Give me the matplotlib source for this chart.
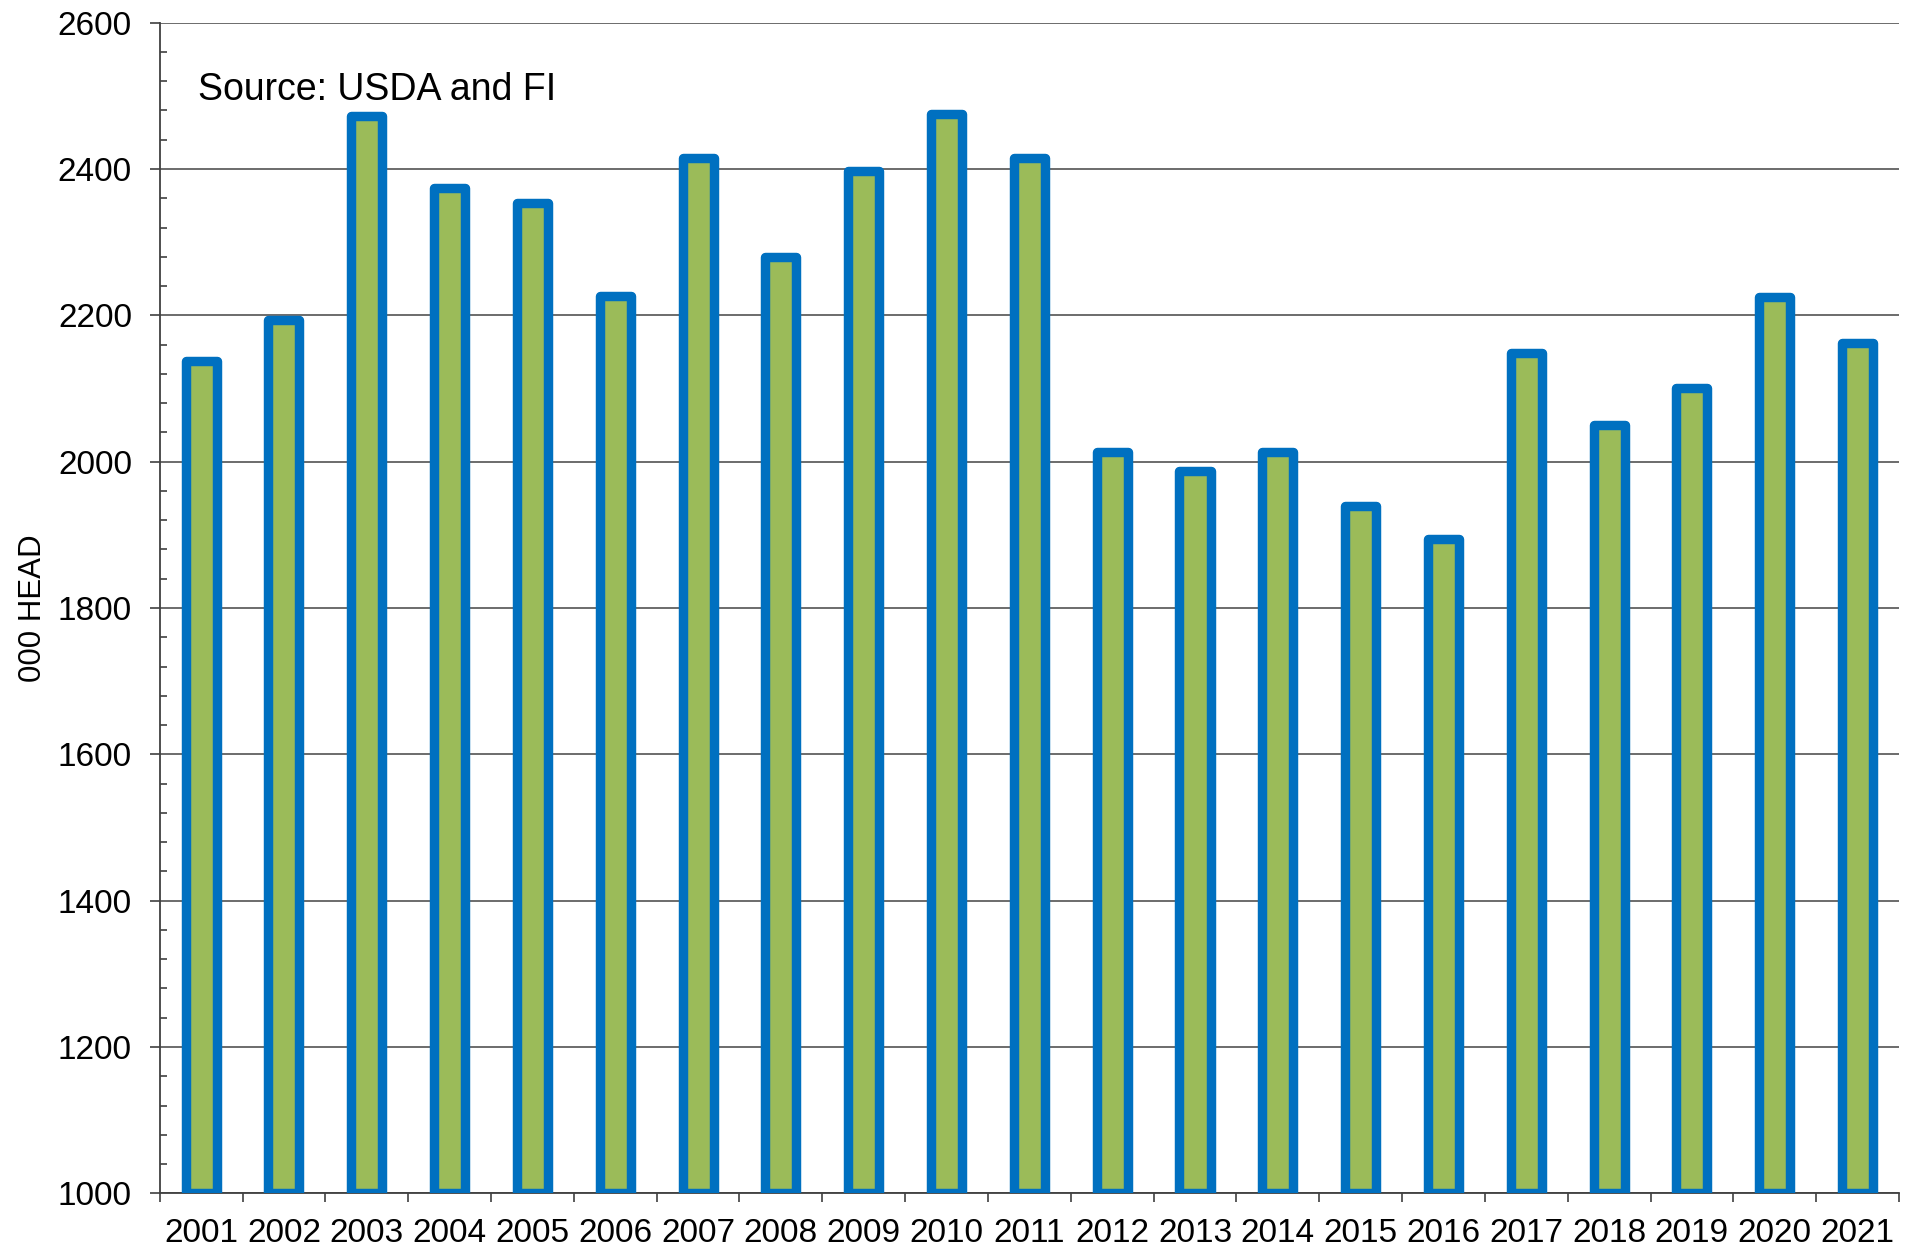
import matplotlib
matplotlib.use("Agg")
import matplotlib.pyplot as plt
import numpy as np
from matplotlib.ticker import MultipleLocator

plt.rcParams['font.family'] = ['Liberation Sans', 'DejaVu Sans']

# cattle on feed style series, 000 head
years = ['2001', '2002', '2003', '2004', '2005', '2006', '2007', '2008', '2009', '2010', '2011',
         '2012', '2013', '2014', '2015', '2016', '2017', '2018', '2019', '2020', '2021']
head = [2138, 2193, 2473, 2374, 2354, 2226, 2415, 2280, 2397, 2475, 2415,
        2013, 1987, 2013, 1940, 1894, 2148, 2050, 2101, 2225, 2162]

ymin, ymax = 1000, 2600
x = np.arange(len(years))

fig = plt.figure(figsize=(19.17, 12.51), dpi=100)
ax = fig.add_axes([0.0833, 0.0461, 0.9073, 0.9358])

bars = ax.bar(x, np.array(head) - ymin, bottom=ymin, width=0.375,
              color='#9BBB59', edgecolor='#0070C0', linewidth=6.8, zorder=3)
for b in bars:
    b.set_joinstyle('round')

ax.set_ylim(ymin, ymax)
ax.set_xlim(-0.5, len(years) - 0.5)
ax.yaxis.set_major_locator(MultipleLocator(200))
ax.yaxis.set_minor_locator(MultipleLocator(40))
ax.grid(axis='y', which='major', color='#606060', linewidth=1.3, zorder=0)

ax.set_xticks(x)
ax.set_xticklabels(years)
ax.set_xticks(np.append(x - 0.5, x[-1] + 0.5), minor=True)
ax.tick_params(axis='x', which='major', length=0, pad=18, labelsize=24)
ax.tick_params(axis='x', which='minor', length=6.5, width=1.2, direction='out', color='#404040')
ax.tick_params(axis='y', which='major', length=7, width=1.2, direction='out', pad=13,
               labelsize=24, color='#404040')
ax.tick_params(axis='y', which='minor', length=5, width=1.2, direction='in', color='#404040')

for s in ['top', 'right']:
    ax.spines[s].set_visible(False)
for s in ['left', 'bottom']:
    ax.spines[s].set_color('#404040')
    ax.spines[s].set_linewidth(1.3)

ax.set_ylabel('000 HEAD', fontsize=22.5)
ax.yaxis.set_label_coords(-0.064, 0.5)

ax.text(0.022, 0.934, 'Source: USDA and FI', transform=ax.transAxes,
        fontsize=27, va='baseline', ha='left')

fig.savefig('out.png', dpi=100)
